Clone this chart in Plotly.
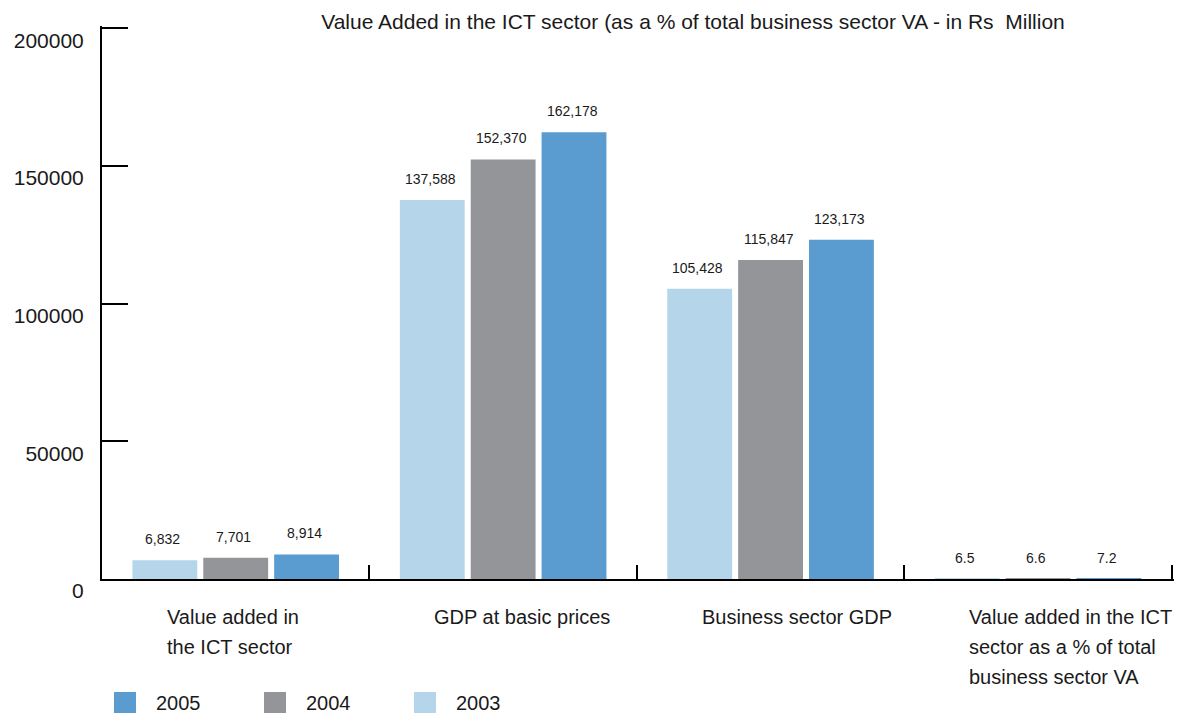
import plotly.graph_objects as go

# Categories and series values (Rs million, last category in %)
categories = [
    "Value added in\nthe ICT sector",
    "GDP at basic prices",
    "Business sector GDP",
    "Value added in the ICT\nsector as a % of total\nbusiness sector VA",
]
years = ["2003", "2004", "2005"]
v2003 = [6832, 137588, 105428, 6.5]
v2004 = [7701, 152370, 115847, 6.6]
v2005 = [8914, 162178, 123173, 7.2]
y_ticks = [0, 50000, 100000, 150000, 200000]

series = [v2003, v2004, v2005]
colors = ["#b5d5ea", "#939598", "#5a9bd0"]

W, H = 1185, 715
Y_MAX = 200800  # small headroom so the top tick is drawn
ML, MR, MT, MB = 102, 11, 26, 136
PW, PH = W - ML - MR, H - MT - MB
FONT = "Liberation Sans, Arial, Helvetica, sans-serif"
BARGAP, GROUPGAP = 0.205, 0.085

cat_keys = [c.replace("\n", " ") for c in categories]

fig = go.Figure()
for name, vals, col in zip(years, series, colors):
    fig.add_trace(go.Bar(
        x=cat_keys, y=vals, name=name,
        marker=dict(color=col, line=dict(width=0)),
        showlegend=False,
    ))


def fmt(v):
    return f"{v:,}" if float(v).is_integer() and v >= 100 else f"{v}"


# value labels above each bar
slot = PW / len(categories) * (1 - BARGAP) / len(series)
annotations = []
for i, (vals, name) in enumerate(zip(series, years)):
    off = (i - (len(series) - 1) / 2) * slot
    for c, v in zip(cat_keys, vals):
        annotations.append(dict(
            x=c, y=v, xref="x", yref="y", text=fmt(v), showarrow=False,
            xanchor="center", yanchor="middle", xshift=off - 2, yshift=21,
            font=dict(family=FONT, size=14, color="#1a1a1a"),
        ))

# category labels, left aligned lines under each group
for c, label in zip(cat_keys, categories):
    for j, line in enumerate(label.split("\n")):
        annotations.append(dict(
            x=c, y=0, xref="x", yref="paper", text=line, showarrow=False,
            xanchor="left", yanchor="middle", xshift=-71, yshift=-38 - 30 * j,
            font=dict(family=FONT, size=20, color="#1a1a1a"),
        ))

# legend (2005, 2004, 2003) drawn as swatches along the bottom
def px_x(px):
    return (px - ML) / PW


def px_y(py):
    return (H - MB - py) / PH


shapes = []
for k, (name, col) in enumerate(reversed(list(zip(years, colors)))):
    x0 = 114 + 150 * k
    shapes.append(dict(
        type="rect", xref="paper", yref="paper",
        x0=px_x(x0), x1=px_x(x0 + 22), y0=px_y(713), y1=px_y(692),
        fillcolor=col, line=dict(width=0),
    ))
    annotations.append(dict(
        x=px_x(x0 + 40), y=px_y(703), xref="paper", yref="paper",
        text=name, showarrow=False, xanchor="left", yanchor="middle",
        font=dict(family=FONT, size=20, color="#1a1a1a"),
    ))

fig.update_layout(
    width=W, height=H,
    margin=dict(l=ML, r=MR, t=MT, b=MB, pad=0, autoexpand=False),
    plot_bgcolor="white", paper_bgcolor="white",
    barmode="group", bargap=BARGAP, bargroupgap=GROUPGAP,
    title=dict(
        text="Value Added in the ICT sector (as a % of total business sector VA - in Rs  Million",
        x=693 / W, xanchor="center", xref="container",
        y=1 - 22 / H, yanchor="middle", yref="container",
        font=dict(family=FONT, size=21, color="#1a1a1a"),
    ),
    xaxis=dict(
        type="category", showline=True, linecolor="black", linewidth=2,
        ticks="inside", tickson="boundaries", ticklen=14, tickwidth=2,
        tickcolor="black", showticklabels=False, showgrid=False,
        zeroline=False, fixedrange=True, automargin=False,
    ),
    yaxis=dict(
        range=[0, Y_MAX], tickvals=y_ticks, ticktext=[str(t) for t in y_ticks],
        showline=True, linecolor="black", linewidth=2,
        ticks="inside", ticklen=26, tickwidth=2, tickcolor="black",
        ticklabelstandoff=12, ticklabelshift=12, automargin=False,
        showgrid=False, zeroline=False,
        tickfont=dict(family=FONT, size=21, color="#1a1a1a"),
    ),
    annotations=annotations,
    shapes=shapes,
    showlegend=False,
)

fig.write_html("out.html")
